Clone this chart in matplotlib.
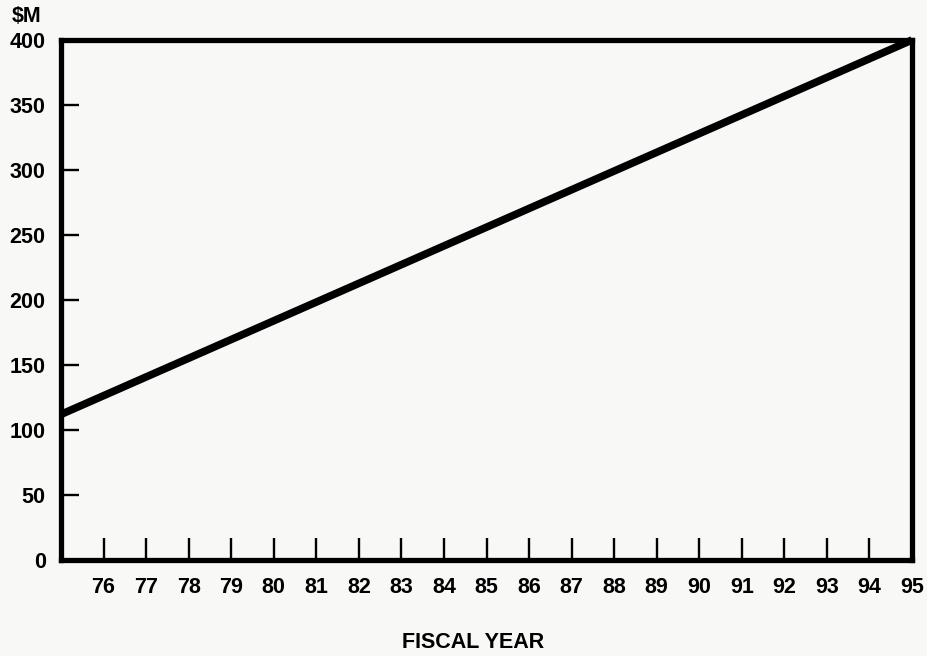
import matplotlib.pyplot as plt

# Data
years = [75, 95]
spending = [112, 400]  # $M
x_ticks = list(range(76, 96))
y_ticks = [0, 50, 100, 150, 200, 250, 300, 350, 400]

bg = "#f8f8f6"
font = {"family": ["Liberation Sans", "DejaVu Sans"], "weight": "bold", "size": 15.5}

fig = plt.figure(figsize=(9.27, 6.56), dpi=100, facecolor=bg)
ax = fig.add_axes([61 / 927, 1 - 560 / 656, (912 - 61) / 927, (560 - 40) / 656])
ax.set_facecolor(bg)

ax.plot(years, spending, color="black", linewidth=5.5, solid_capstyle="butt", clip_on=False)

ax.set_xlim(75, 95)
ax.set_ylim(0, 400)

for s in ax.spines.values():
    s.set_linewidth(3.8)
    s.set_color("black")

ax.set_xticks(x_ticks)
ax.set_xticklabels([str(t) for t in x_ticks], fontdict=font)
ax.set_yticks(y_ticks)
ax.set_yticklabels([str(t) for t in y_ticks], fontdict=font)

ax.tick_params(axis="x", direction="in", length=16, width=1.7, pad=12, color="black")
ax.tick_params(axis="y", direction="in", length=13, width=1.7, pad=11, color="black")
# no visible ticks at 0 and 400 (they sit on the frame)
for i in (0, len(y_ticks) - 1):
    ax.yaxis.get_major_ticks()[i].tick1line.set_visible(False)
ax.xaxis.get_major_ticks()[-1].tick1line.set_visible(False)

fig.text(12 / 927, 1 - 17 / 656, "$M", ha="left", va="center", **font)
fig.text(473 / 927, 1 - 643 / 656, "FISCAL YEAR", ha="center", va="center", **font)

fig.savefig("out.png", dpi=100, facecolor=bg)
